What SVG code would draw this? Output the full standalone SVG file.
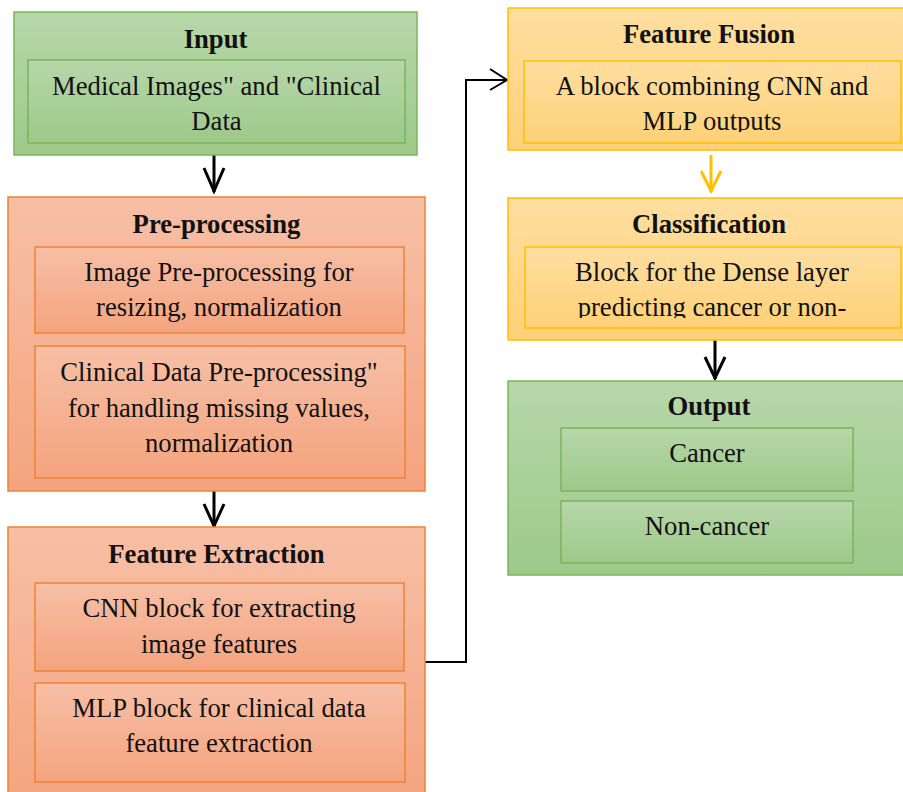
<svg xmlns="http://www.w3.org/2000/svg" width="903" height="792" viewBox="0 0 903 792">
<defs>
<linearGradient id="gGreen" x1="0" y1="0" x2="0" y2="1"><stop offset="0" stop-color="#b7d7a9"/><stop offset="1" stop-color="#9dc98a"/></linearGradient>
<linearGradient id="gOrange" x1="0" y1="0" x2="0" y2="1"><stop offset="0" stop-color="#f7bfa6"/><stop offset="1" stop-color="#f4a47f"/></linearGradient>
<linearGradient id="gYellow" x1="0" y1="0" x2="0" y2="1"><stop offset="0" stop-color="#fedea0"/><stop offset="1" stop-color="#fed179"/></linearGradient>
<clipPath id="clipFF"><rect x="524" y="61" width="377" height="71"/></clipPath>
<clipPath id="clipCL"><rect x="525" y="247" width="376" height="71"/></clipPath>
</defs>
<style>
.green{fill:url(#gGreen);stroke:#7ab55c;stroke-width:1.5}
.orange{fill:url(#gOrange);stroke:#ef8235;stroke-width:1.5}
.yellow{fill:url(#gYellow);stroke:#ffc000;stroke-width:1.5}
text{font-family:'Liberation Serif','Tinos','Times New Roman','DejaVu Serif',serif;font-size:26.67px;fill:#111;text-anchor:middle}
.title{font-weight:bold}
.conn{fill:none;stroke:#000;stroke-width:3}
.thin{fill:none;stroke:#000;stroke-width:2}
.yconn{fill:none;stroke:#ffc000;stroke-width:3}
</style>
<g id="connectors">
<path class="conn" d="M214,155 V192"/>
<path class="conn" d="M204,168 L214,191 L224,168"/>
<path class="conn" d="M214,491 V527"/>
<path class="conn" d="M204,504 L214,526 L224,504"/>
<path class="thin" d="M425,662 H466 V80 H507"/>
<path class="thin" d="M490,69 L507,80 L490,90"/>
<path class="yconn" d="M711,155 V192"/>
<path class="yconn" d="M701,171 L711,191 L721,171"/>
<path class="conn" d="M715,340 V379"/>
<path class="conn" d="M705,357 L715,378 L725,357"/>
</g>
<g id="input">
<rect class="green" x="14" y="12" width="403" height="143"/>
<text class="title" x="215.5" y="48">Input</text>
<rect class="green" x="28" y="60" width="377" height="83"/>
<text x="216.5" y="95">Medical Images" and "Clinical</text>
<text x="216.5" y="130">Data</text>
</g>
<g id="preprocessing">
<rect class="orange" x="8" y="197" width="417" height="294"/>
<text class="title" x="216.5" y="233">Pre-processing</text>
<rect class="orange" x="35" y="247" width="369" height="86"/>
<text x="219" y="281">Image Pre-processing for</text>
<text x="219" y="316">resizing, normalization</text>
<rect class="orange" x="35" y="346" width="370" height="132"/>
<text x="219" y="381">Clinical Data Pre-processing"</text>
<text x="219" y="417">for handling missing values,</text>
<text x="219" y="452">normalization</text>
</g>
<g id="feature-extraction">
<rect class="orange" x="8" y="527" width="417" height="275"/>
<text class="title" x="216.5" y="563">Feature Extraction</text>
<rect class="orange" x="35" y="583" width="369" height="88"/>
<text x="219" y="617">CNN block for extracting</text>
<text x="219" y="653">image features</text>
<rect class="orange" x="35" y="683" width="370" height="99"/>
<text x="219" y="717">MLP block for clinical data</text>
<text x="219" y="752">feature extraction</text>
</g>
<g id="feature-fusion">
<rect class="yellow" x="508" y="8" width="410" height="142"/>
<text class="title" x="709" y="43">Feature Fusion</text>
<rect class="yellow" x="524" y="61" width="377" height="82"/>
<g clip-path="url(#clipFF)">
<text x="712" y="95">A block combining CNN and</text>
<text x="712" y="130">MLP outputs</text>
</g>
</g>
<g id="classification">
<rect class="yellow" x="508" y="198" width="410" height="142"/>
<text class="title" x="709" y="233">Classification</text>
<rect class="yellow" x="525" y="247" width="376" height="81"/>
<g clip-path="url(#clipCL)">
<text x="712" y="281">Block for the Dense layer</text>
<text x="712" y="316">predicting cancer or non-</text>
</g>
</g>
<g id="output">
<rect class="green" x="508" y="381" width="410" height="194"/>
<text class="title" x="709" y="415">Output</text>
<rect class="green" x="561" y="428" width="292" height="63"/>
<text x="707" y="462">Cancer</text>
<rect class="green" x="561" y="501" width="292" height="62"/>
<text x="707" y="535">Non-cancer</text>
</g>
</svg>
